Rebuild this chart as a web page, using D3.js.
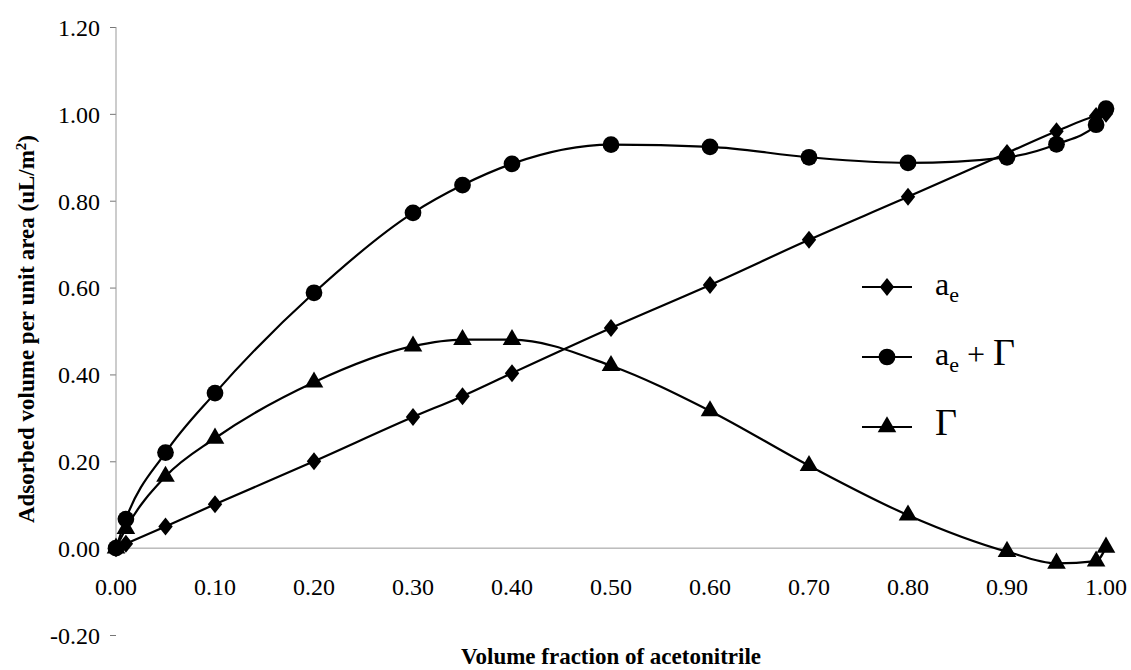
<!DOCTYPE html>
<html>
<head>
<meta charset="utf-8">
<script src="https://cdn.jsdelivr.net/npm/d3@7"></script>
<style>
  body { margin: 0; background: #fff; }
  svg text { font-family: "Liberation Serif", "Times New Roman", serif !important; fill: #000; }
</style>
</head>
<body>
<div id="chart"></div>
<script>
// volume fraction of acetonitrile
var fractions = [0, 0.01, 0.05, 0.10, 0.20, 0.30, 0.35, 0.40, 0.50, 0.60, 0.70, 0.80, 0.90, 0.95, 0.99, 1.00];
var aE      = [0, 0.01, 0.05, 0.101, 0.20, 0.302, 0.35, 0.403, 0.507, 0.606, 0.71, 0.809, 0.91, 0.96, 0.995, 1.00];
var aEGamma = [0, 0.067, 0.22, 0.357, 0.588, 0.772, 0.836, 0.885, 0.929, 0.924, 0.90, 0.887, 0.90, 0.93, 0.975, 1.012];
var gamma   = [0, 0.045, 0.165, 0.253, 0.382, 0.465, 0.48, 0.48, 0.42, 0.316, 0.19, 0.076, -0.008, -0.035, -0.03, 0.002];

var xTicks = [0, 0.1, 0.2, 0.3, 0.4, 0.5, 0.6, 0.7, 0.8, 0.9, 1.0];
var yTicks = [-0.2, 0, 0.2, 0.4, 0.6, 0.8, 1.0, 1.2];

var width = 1131, height = 670;
var serif = '"Liberation Serif", "Times New Roman", serif';

var svg = d3.select("#chart").append("svg")
    .attr("width", width)
    .attr("height", height)
    .attr("font-family", serif);

var x = d3.scaleLinear().domain([0, 1]).range([116, 1106]);
var y = d3.scaleLinear().domain([-0.2, 1.2]).range([635, 27]);

var fmt = function(d) { return d3.format(".2f")(d).replace("\u2212", "-"); };

// y axis
var yAxis = svg.append("g")
    .attr("transform", "translate(" + x(0) + ",0)")
    .call(d3.axisLeft(y).tickValues(yTicks).tickFormat(fmt).tickSize(6).tickPadding(10));
yAxis.attr("font-family", serif).attr("font-size", 24);
yAxis.select(".domain").remove();
yAxis.selectAll(".tick line").attr("stroke", "#777");
yAxis.selectAll(".tick text").attr("dy", "0.35em");

svg.append("line")
    .attr("x1", x(0)).attr("x2", x(0))
    .attr("y1", y(1.2)).attr("y2", y(0))
    .attr("stroke", "#999").attr("stroke-width", 1);

// x axis line at y = 0
svg.append("line")
    .attr("x1", x(0)).attr("x2", x(1))
    .attr("y1", y(0)).attr("y2", y(0))
    .attr("stroke", "#999").attr("stroke-width", 1);

svg.append("g").selectAll("text")
    .data(xTicks)
    .enter().append("text")
    .attr("x", function(d) { return x(d); })
    .attr("y", 595)
    .attr("text-anchor", "middle")
    .style("font-size", "24px")
    .text(fmt);

// titles
svg.append("text")
    .attr("x", 611).attr("y", 664)
    .attr("text-anchor", "middle")
    .style("font-size", "23px").style("font-weight", "bold")
    .text("Volume fraction of acetonitrile");

var yt = svg.append("text")
    .attr("transform", "translate(34,329) rotate(-90)")
    .attr("text-anchor", "middle")
    .style("font-size", "23px").style("font-weight", "bold");
yt.append("tspan").text("Adsorbed volume per unit area (uL/m");
yt.append("tspan").attr("dy", -8).style("font-size", "15px").text("2");
yt.append("tspan").attr("dy", 8).text(")");

// series
var series = [
  {name: "ae", values: aE, symbol: d3.symbolDiamond, size: 110},
  {name: "aeG", values: aEGamma, symbol: d3.symbolCircle, size: 220},
  {name: "g", values: gamma, symbol: d3.symbolTriangle, size: 150}
];

var line = d3.line()
    .x(function(d, i) { return x(fractions[i]); })
    .y(function(d) { return y(d); })
    .curve(d3.curveMonotoneX);

function diamondPath(s) {
  return "M0," + (-s) + "L" + (s * 0.8) + ",0L0," + s + "L" + (-s * 0.8) + ",0Z";
}

function markerPath(sr) {
  if (sr.name === "ae") return diamondPath(9);
  return d3.symbol().type(sr.symbol).size(sr.size)();
}

series.forEach(function(sr) {
  svg.append("path")
      .datum(sr.values)
      .attr("fill", "none")
      .attr("stroke", "#000")
      .attr("stroke-width", 2.2)
      .attr("d", line);

  svg.append("g").selectAll("path")
      .data(sr.values)
      .enter().append("path")
      .attr("transform", function(d, i) { return "translate(" + x(fractions[i]) + "," + y(d) + ")"; })
      .attr("d", markerPath(sr))
      .attr("fill", "#000");
});

// legend
var legendY = [287, 357, 427];
series.forEach(function(sr, i) {
  var g = svg.append("g").attr("transform", "translate(0," + legendY[i] + ")");
  g.append("line").attr("x1", 862).attr("x2", 912).attr("y1", 0).attr("y2", 0)
      .attr("stroke", "#000").attr("stroke-width", 2.2);
  g.append("path").attr("transform", "translate(887,0)").attr("d", markerPath(sr)).attr("fill", "#000");
  var t = g.append("text").attr("x", 935).attr("y", 8).style("font-size", "32px");
  if (sr.name === "g") {
    t.append("tspan").style("font-size", "38px").text("Γ");
  } else {
    t.append("tspan").text("a");
    t.append("tspan").attr("dy", 7).style("font-size", "22px").text("e");
    if (sr.name === "aeG") {
      t.append("tspan").attr("dy", -7).text(" + ");
      t.append("tspan").style("font-size", "38px").text("Γ");
    }
  }
});
</script>
</body>
</html>
